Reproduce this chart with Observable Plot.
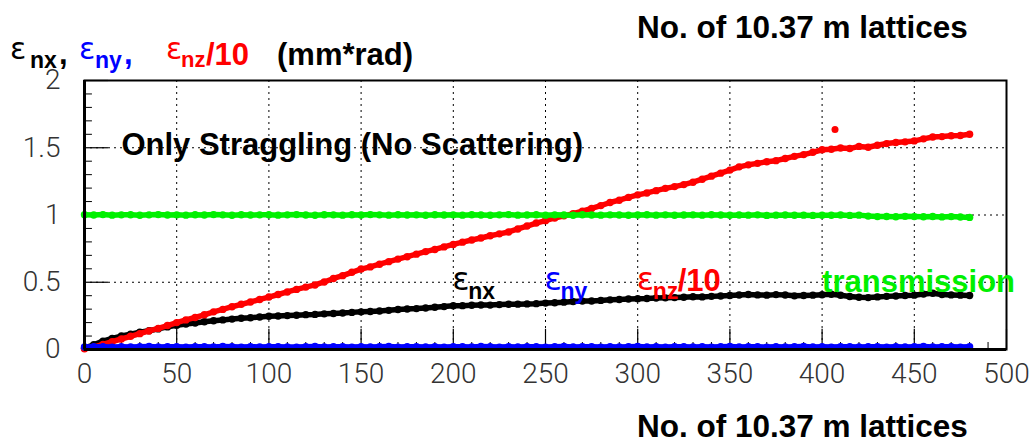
<!DOCTYPE html>
<html>
<head>
<meta charset="utf-8">
<script src="https://cdn.jsdelivr.net/npm/d3@7"></script>
<script src="https://cdn.jsdelivr.net/npm/@observablehq/plot@0.6"></script>
<style>
  body { margin: 0; background: #fff; }
  #wrap { position: relative; width: 1034px; height: 447px; overflow: hidden; background: #fff; }
  #wrap svg { position: absolute; left: 0; top: 0; }
  .lbl { position: absolute; white-space: nowrap; line-height: 1;
         font-family: "Liberation Sans", Arial, Helvetica, sans-serif; font-weight: bold; }
</style>
</head>
<body>
<div id="wrap"></div>
<script>
// Lattice index (one sample every 5 lattices, 0 … 480)
const lattice = d3.range(0, 481, 5);

// Normalised horizontal emittance ε_nx (mm*rad)
const epsNx = [
  0.010,0.035,0.062,0.082,0.100,0.113,0.128,0.140,0.153,0.168,
  0.180,0.190,0.197,0.206,0.214,0.220,0.226,0.232,0.236,0.242,
  0.247,0.249,0.252,0.255,0.259,0.261,0.265,0.268,0.271,0.276,
  0.280,0.283,0.286,0.291,0.297,0.301,0.304,0.309,0.314,0.319,
  0.325,0.326,0.329,0.331,0.330,0.334,0.336,0.337,0.339,0.341,
  0.345,0.348,0.352,0.356,0.360,0.361,0.365,0.369,0.372,0.375,
  0.378,0.379,0.382,0.384,0.386,0.389,0.392,0.391,0.395,0.398,
  0.401,0.405,0.409,0.406,0.404,0.408,0.405,0.399,0.402,0.404,
  0.407,0.411,0.403,0.394,0.388,0.386,0.391,0.395,0.398,0.401,
  0.404,0.412,0.418,0.409,0.406,0.404,0.402
];

// Normalised vertical emittance ε_ny (mm*rad)
const epsNy = [
  0.019,0.021,0.020,0.018,0.021,0.019,0.020,0.022,0.019,0.021,
  0.020,0.018,0.021,0.020,0.019,0.022,0.020,0.018,0.021,0.019,
  0.020,0.021,0.019,0.018,0.020,0.022,0.019,0.021,0.020,0.018,
  0.021,0.019,0.020,0.022,0.018,0.020,0.021,0.019,0.020,0.018,
  0.021,0.020,0.019,0.022,0.020,0.018,0.021,0.019,0.020,0.021,
  0.018,0.020,0.022,0.019,0.021,0.020,0.018,0.021,0.019,0.020,
  0.022,0.019,0.020,0.018,0.021,0.020,0.019,0.021,0.018,0.020,
  0.022,0.019,0.021,0.020,0.018,0.021,0.019,0.020,0.022,0.019,
  0.020,0.018,0.021,0.020,0.019,0.021,0.020,0.018,0.021,0.019,
  0.020,0.022,0.019,0.021,0.020,0.018,0.020
];

// Longitudinal emittance ε_nz divided by 10 (mm*rad)
const epsNz10 = [
  0.005,0.018,0.038,0.058,0.078,0.098,0.118,0.138,0.157,0.178,
  0.200,0.220,0.238,0.258,0.280,0.298,0.318,0.336,0.353,0.372,
  0.390,0.409,0.428,0.447,0.464,0.480,0.502,0.528,0.549,0.574,
  0.598,0.614,0.634,0.653,0.672,0.690,0.709,0.728,0.744,0.763,
  0.781,0.798,0.814,0.829,0.846,0.860,0.874,0.896,0.918,0.940,
  0.958,0.978,0.994,1.010,1.029,1.049,1.070,1.093,1.110,1.131,
  1.150,1.164,1.181,1.198,1.211,1.226,1.244,1.266,1.289,1.311,
  1.334,1.358,1.373,1.384,1.396,1.404,1.420,1.436,1.449,1.466,
  1.485,1.489,1.498,1.494,1.510,1.504,1.519,1.531,1.539,1.544,
  1.551,1.566,1.580,1.583,1.589,1.591,1.600
];
// single stray ε_nz/10 sample
const strayLattice = [407];
const strayNz10 = [1.635];

// Transmission
const transmission = [
  1.002,1.000,1.003,0.999,1.001,1.002,0.998,1.001,1.003,1.000,
  1.001,0.999,1.002,1.000,1.003,1.001,0.998,1.002,1.000,1.001,
  1.002,0.999,1.001,1.003,1.000,0.998,1.002,1.001,0.999,1.002,
  1.000,1.003,1.001,0.999,1.002,1.000,1.001,0.998,1.002,1.000,
  1.001,0.999,1.002,1.000,0.998,1.001,1.003,0.999,1.000,1.002,
  0.999,1.001,1.000,0.998,1.002,1.000,0.999,1.001,1.000,0.998,
  1.000,1.002,0.999,1.001,0.998,1.000,1.001,0.999,1.002,1.000,
  0.998,1.000,0.999,1.001,0.997,0.999,1.000,0.998,0.999,0.997,
  0.999,0.998,1.000,0.997,0.999,0.992,0.988,0.989,0.987,0.990,
  0.988,0.987,0.989,0.986,0.988,0.985,0.982
];

// Axis ticks and labels
const xTicks = [0, 50, 100, 150, 200, 250, 300, 350, 400, 450, 500];
const xTickLabels = ["0","50","100","150","200","250","300","350","400","450","500"];
const xMinor = d3.range(10, 500, 10).filter(v => v % 50 !== 0);
const yTicks = [0, 0.5, 1, 1.5, 2];
const yTickLabels = ["0","0.5","1","1.5","2"];
const yMinor = [0.1,0.2,0.3,0.4,0.6,0.7,0.8,0.9,1.1,1.2,1.3,1.4,1.6,1.7,1.8,1.9];
const xGrid = [50, 100, 150, 200, 250, 300, 350, 400, 450];
const yGrid = [0.5, 1, 1.5];

const xAxisTitle = "No. of 10.37 m lattices";
const panelNote = "Only Straggling (No Scattering)";

const RED = "#ff0000", GREEN = "#00f000", BLUE = "#0000ff", BLACK = "#000000";
const EPS_FONT = "'DejaVu Sans', 'Liberation Sans', sans-serif";

const series = (values) => lattice.map((l, i) => ({l, v: values[i]}));

// draw one series as a chain of fat markers
function chain(values, color) {
  const d = series(values);
  return [
    Plot.line(d, {x: "l", y: "v", stroke: color, strokeWidth: 5.5, strokeLinejoin: "round", strokeLinecap: "round"}),
    Plot.dot(d, {x: "l", y: "v", r: 3.7, fill: color, stroke: "none"})
  ];
}

// text whose baseline sits at (x, y) in data units, shifted by (dx, dy) pixels
function label(x, y, text, size, color, weight, dx = 0, dy = 0, family) {
  return Plot.text([text], {
    x: () => x, y: () => y, text: d => d,
    fontSize: size, fill: color, fontWeight: weight,
    fontFamily: family || "Liberation Sans, Arial, Helvetica, sans-serif",
    textAnchor: "start", lineAnchor: "bottom",
    dx, dy: dy + 0.29 * size
  });
}

const chart = Plot.plot({
  width: 1034, height: 447,
  marginLeft: 84, marginRight: 28, marginTop: 80, marginBottom: 98,
  x: {domain: [0, 500]},
  y: {domain: [0, 2]},
  style: {background: "white", overflow: "visible"},
  marks: [
    // dotted grid
    Plot.ruleX(xGrid, {stroke: BLACK, strokeWidth: 1, strokeDasharray: "2,4"}),
    Plot.ruleY(yGrid, {stroke: BLACK, strokeWidth: 1, strokeDasharray: "2,4"}),
    // inward ticks
    Plot.ruleX(xMinor, {y1: 0, y2: 0.052, stroke: BLACK, strokeWidth: 1}),
    Plot.ruleX(xTicks, {y1: 0, y2: 0.15, stroke: BLACK, strokeWidth: 1.2}),
    Plot.ruleY(yMinor, {x1: 0, x2: 4.3, stroke: BLACK, strokeWidth: 1}),
    Plot.ruleY(yTicks, {x1: 0, x2: 13, stroke: BLACK, strokeWidth: 1.2}),
    // data
    ...chain(epsNx, BLACK),
    ...chain(epsNz10, RED),
    Plot.dot(strayLattice.map((l, i) => ({l, v: strayNz10[i]})), {x: "l", y: "v", r: 3.5, fill: RED}),
    ...chain(transmission, GREEN),
    ...chain(epsNy, BLUE),
    // frame and main axes
    Plot.frame({stroke: BLACK, strokeWidth: 2}),
    Plot.ruleX([0], {stroke: BLACK, strokeWidth: 3}),
    Plot.ruleY([0], {stroke: BLACK, strokeWidth: 3}),
    Plot.axisX(xTicks, {tickSize: 0, tickPadding: 14, label: null,
      tickFormat: d => xTickLabels[xTicks.indexOf(d)], fontSize: 28}),
    Plot.axisY(yTicks, {tickSize: 0, tickPadding: 24, label: null,
      tickFormat: d => yTickLabels[yTicks.indexOf(d)], fontSize: 28}),
    // annotations
    label(20, 1.51, panelNote, 31, BLACK, "bold"),
    label(200, 0.513, "ε", 32, BLACK, "normal", -1, 0, EPS_FONT),
    label(200, 0.513, "nx", 23, BLACK, "bold", 15, 12),
    label(250, 0.513, "ε", 32, BLUE, "normal", -1, 0, EPS_FONT),
    label(250, 0.513, "ny", 23, BLUE, "bold", 15, 12),
    label(300, 0.513, "ε", 32, RED, "normal", -1, 0, EPS_FONT),
    label(300, 0.513, "nz", 23, RED, "bold", 15, 12),
    label(300, 0.513, "/10", 31, RED, "bold", 40, 2),
    label(400, 0.498, "transmission", 31, GREEN, "bold")
  ]
});

d3.select(chart).selectAll('g[aria-label$="tick label"] text')
  .attr("font-family", "Roboto, Lato, 'DejaVu Sans', sans-serif")
  .attr("font-weight", 300)
  .attr("fill", "#333");

const wrap = document.getElementById("wrap");
wrap.appendChild(chart);

// HTML text placed with its baseline at a given pixel row
function put(text, x, baseline, size, color, weight, family) {
  const d = document.createElement("div");
  d.className = "lbl";
  d.textContent = text;
  d.style.left = x + "px";
  d.style.top = (baseline - 0.8465 * size) + "px";
  d.style.fontSize = size + "px";
  d.style.color = color;
  d.style.fontWeight = weight;
  if (family) d.style.fontFamily = family;
  wrap.appendChild(d);
}

// axis titles above and below the frame
put(xAxisTitle, 637, 39, 31.5, BLACK, "bold");
put(xAxisTitle, 637, 438, 31.5, BLACK, "bold");

// ordinate title: ε_nx, ε_ny , ε_nz/10 (mm*rad)
put("ε", 10, 59, 30, BLACK, "normal", EPS_FONT);
put("nx", 30, 68, 23, BLACK, "bold");
put(",", 59, 64, 31, BLACK, "bold");
put("ε", 79, 59, 30, BLUE, "normal", EPS_FONT);
put("ny", 95, 68, 23, BLUE, "bold");
put(",", 124, 64, 31, BLUE, "bold");
put("ε", 166, 59, 30, RED, "normal", EPS_FONT);
put("nz", 181, 68, 22, RED, "bold");
put("/10", 206, 65, 31, RED, "bold");
put("(mm*rad)", 277, 65, 31, BLACK, "bold");
</script>
</body>
</html>
